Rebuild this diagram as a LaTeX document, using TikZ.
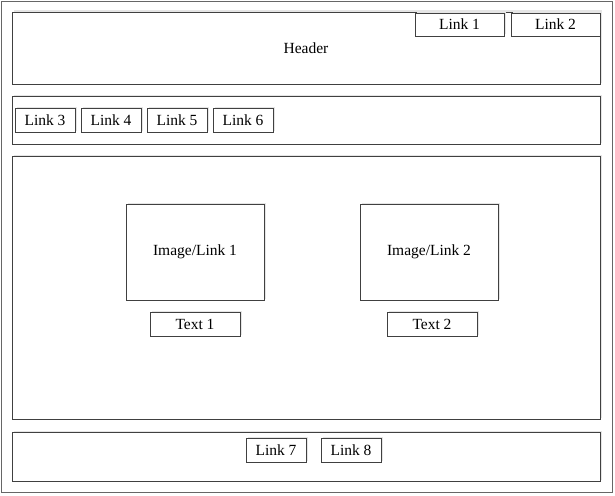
\documentclass[tikz,border=0pt]{standalone}
\usepackage{fontspec}
\setmainfont{Liberation Serif}
\usetikzlibrary{shadows}

\definecolor{frame}{RGB}{64,64,64}
\tikzstyle{main}    = [transform shape, inner sep=0pt, outer sep=0pt, text centered, draw=frame, line width=0.9pt, fill=white, drop shadow={shadow xshift=1.5pt, shadow yshift=1.5pt, fill=black!10, opacity=1}]
\tikzstyle{region}  = [main, minimum width=588pt]
\tikzstyle{linkbox} = [main, minimum width=60pt, minimum height=24pt]
\tikzstyle{topbox}  = [main, minimum width=89pt, minimum height=23pt]
\tikzstyle{imgbox}  = [main, minimum width=138pt, minimum height=96pt]
\tikzstyle{txtbox}  = [main, minimum width=90pt, minimum height=24pt]

\begin{document}
\begin{tikzpicture}[x=1pt, y=-1pt, font=\fontsize{15.5}{18}\selectfont]
  \useasboundingbox (0,0) rectangle (615,495);
  \draw[frame!80, line width=0.9pt] (1,1) rectangle (612.5,492.5);
  \draw
    node[region, minimum height=72pt]  (header) at (306,48)    {Header}
    node[topbox]                       (link1)  at (459.5,24.5) {Link 1}
    node[topbox]                       (link2)  at (555.5,24.5) {Link 2}
    node[region, minimum height=48pt]  (nav)    at (306,120)   {}
    node[linkbox]                      (link3)  at (45,120)    {Link 3}
    node[linkbox]                      (link4)  at (111,120)   {Link 4}
    node[linkbox]                      (link5)  at (177,120)   {Link 5}
    node[linkbox]                      (link6)  at (243,120)   {Link 6}
    node[region, minimum height=263pt] (body)   at (306,287.5) {}
    node[imgbox]                       (img1)   at (195,252)   {Image/Link 1}
    node[txtbox]                       (text1)  at (195,324)   {Text 1}
    node[imgbox]                       (img2)   at (429,252)   {Image/Link 2}
    node[txtbox]                       (text2)  at (432,324)   {Text 2}
    node[region, minimum height=49pt]  (footer) at (306,456.5) {}
    node[linkbox]                      (link7)  at (276,450)   {Link 7}
    node[linkbox]                      (link8)  at (351,450)   {Link 8};
\end{tikzpicture}
\end{document}
